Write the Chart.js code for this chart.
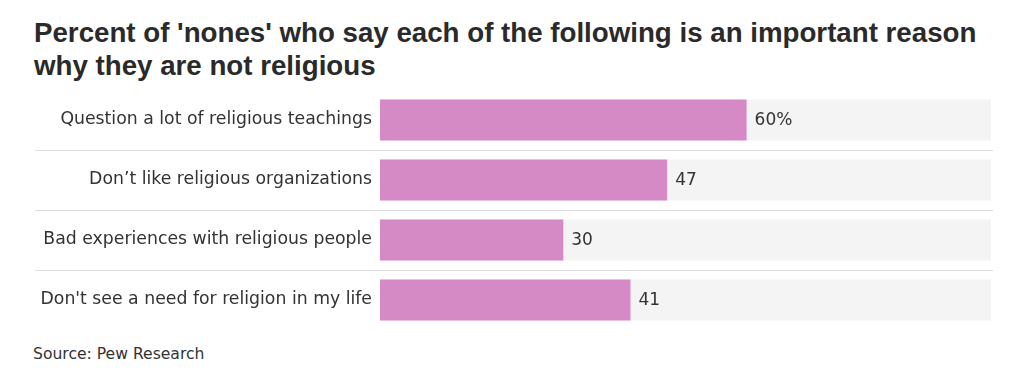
<!DOCTYPE html>
<html>
<head>
<meta charset="utf-8">
<script src="https://cdn.jsdelivr.net/npm/chart.js@4"></script>
<style>
  html, body { margin: 0; padding: 0; background: #fff; }
  body { width: 1032px; height: 380px; position: relative; overflow: hidden; font-family: "DejaVu Sans", sans-serif; color: #2a2a2a; }
  #title { position: absolute; left: 34px; top: 17px; font-family: "Liberation Sans", Arial, sans-serif; font-weight: bold; font-size: 27.7px; line-height: 32.5px; color: #2a2a2a; white-space: nowrap; }
  #source { position: absolute; left: 33px; top: 344px; font-family: "DejaVu Sans", sans-serif; font-size: 15.6px; line-height: 20px; color: #333; }
  #wrap { position: absolute; left: 0; top: 89.5px; width: 1032px; height: 240px; }
</style>
</head>
<body>
<div id="title">Percent of 'nones' who say each of the following is an important reason<br>why they are not religious</div>
<div id="wrap"><canvas id="c"></canvas></div>
<div id="source">Source: Pew Research</div>
<script>
const categories = [
  "Question a lot of religious teachings",
  "Don\u2019t like religious organizations",
  "Bad experiences with religious people",
  "Don't see a need for religion in my life"
];
const values = [60, 47, 30, 41];
const valueLabels = ["60%", "47", "30", "41"];
const trackValues = [100, 100, 100, 100];

const separators = {
  id: 'separators',
  beforeDatasetsDraw(chart) {
    const ctx = chart.ctx, y = chart.scales.y, area = chart.chartArea;
    ctx.save();
    ctx.strokeStyle = '#dcdcdc';
    ctx.lineWidth = 1;
    for (let i = 1; i < categories.length; i++) {
      const py = Math.round((y.getPixelForValue(i - 1) + y.getPixelForValue(i)) / 2) + 0.5;
      ctx.beginPath();
      ctx.moveTo(35, py);
      ctx.lineTo(area.right + 2, py);
      ctx.stroke();
    }
    ctx.restore();
  }
};

const valueText = {
  id: 'valueText',
  afterDatasetsDraw(chart) {
    const ctx = chart.ctx;
    const meta = chart.getDatasetMeta(0);
    ctx.save();
    ctx.font = '17px "DejaVu Sans", sans-serif';
    ctx.fillStyle = '#333';
    ctx.textBaseline = 'middle';
    ctx.textAlign = 'left';
    meta.data.forEach((bar, i) => {
      ctx.fillText(valueLabels[i], bar.x + 8, bar.y + 1);
    });
    ctx.restore();
  }
};

new Chart(document.getElementById('c'), {
  type: 'bar',
  data: {
    labels: categories,
    datasets: [
      { data: values, backgroundColor: '#d58ac6', grouped: false, barPercentage: 0.683, categoryPercentage: 1.0 },
      { data: trackValues, backgroundColor: '#f4f4f4', grouped: false, barPercentage: 0.683, categoryPercentage: 1.0 }
    ]
  },
  options: {
    indexAxis: 'y',
    responsive: true,
    maintainAspectRatio: false,
    animation: false,
    layout: { padding: { left: 0, right: 41, top: 0, bottom: 0 } },
    plugins: { legend: { display: false }, tooltip: { enabled: false }, title: { display: false } },
    scales: {
      x: { display: false, min: 0, max: 100 },
      y: {
        grid: { display: false, drawTicks: false, tickLength: 0 },
        border: { display: false },
        afterFit(scale) { scale.width = 380; scale.paddingTop = 0; scale.paddingBottom = 0; },
        ticks: {
          padding: 8,
          color: '#333',
          font: { family: '"DejaVu Sans", sans-serif', size: 17.3 }
        }
      }
    }
  },
  plugins: [separators, valueText]
});
</script>
</body>
</html>
